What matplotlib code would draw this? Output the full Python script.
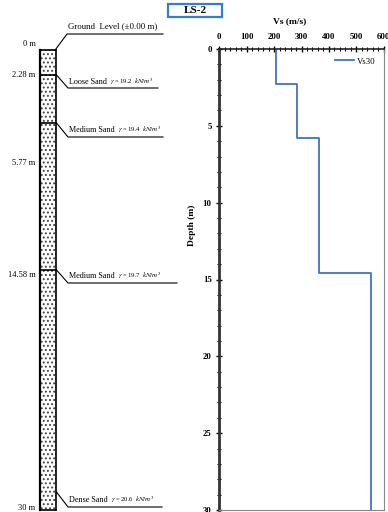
import numpy as np
import matplotlib
matplotlib.use("Agg")
import matplotlib.pyplot as plt
from matplotlib.patches import Rectangle
from matplotlib.ticker import MultipleLocator

plt.rcParams['font.family'] = ['Liberation Serif', 'DejaVu Serif']
plt.rcParams['mathtext.fontset'] = 'stix'
plt.rcParams['hatch.linewidth'] = 0.9

# ---- data ----
title = "LS-2"
layer_depths = [0.0, 2.28, 5.77, 14.58, 30.0]
depth_labels = ["0 m", "2.28 m", "5.77 m", "14.58 m", "30 m"]
layer_names = ["Loose Sand", "Medium Sand", "Medium Sand", "Dense Sand"]
unit_weights = [19.2, 19.4, 19.7, 20.6]
vs_values = [206, 283, 364, 553]
x_ticks = [0, 100, 200, 300, 400, 500, 600]
y_ticks = [0, 5, 10, 15, 20, 25, 30]

W, H = 388, 512
fig = plt.figure(figsize=(W / 100, H / 100), dpi=100)

# ---- left schematic (pixel coordinates) ----
ax0 = fig.add_axes([0, 0, 1, 1])
ax0.set_xlim(0, W)
ax0.set_ylim(H, 0)
ax0.axis('off')

col_x0, col_x1 = 39.5, 55.5
bound_px = [49.5, 75, 123, 270, 510]   # schematic (not to scale) positions
label_px = [44, 75, 163, 275, 508]

ax0.add_patch(Rectangle((col_x0, bound_px[0]), col_x1 - col_x0, bound_px[-1] - bound_px[0],
                        facecolor='white', edgecolor='#444444', hatch='....', lw=0))
ax0.plot([col_x0, col_x0], [bound_px[0], bound_px[-1]], color='black', lw=1.6)
ax0.plot([col_x1, col_x1], [bound_px[0], bound_px[-1]], color='black', lw=1.2)
for b in bound_px:
    ax0.plot([col_x0, col_x1], [b, b], color='black', lw=1.2)

for lab, yp in zip(depth_labels, label_px):
    ax0.text(35.5, yp, lab, ha='right', va='center', fontsize=6)

# ground level leader
ax0.plot([col_x1, 67, 163], [bound_px[0], 34, 34], color='black', lw=0.8)
ax0.text(68, 30, "Ground  Level (±0.00 m)", ha='left', va='bottom', fontsize=6.3)

leader_start = [75, 123, 270, 492]
leader_end_y = [88, 137, 283, 507]
line_end_x = [158, 163, 177, 162]
fig.canvas.draw()
renderer = fig.canvas.get_renderer()
for name, gw, ys, ye, xe in zip(layer_names, unit_weights, leader_start, leader_end_y, line_end_x):
    ax0.plot([col_x1 + 1, 68, xe], [ys, ye, ye], color='black', lw=0.8)
    t1 = ax0.text(69, ye - 2.5, name, ha='left', va='bottom', fontsize=5.9)
    bb = t1.get_window_extent(renderer)
    xd = ax0.transData.inverted().transform((bb.x1 + 3, 0))[0]
    t2 = ax0.text(xd, ye - 2.5, r"$\gamma$ = %.1f " % gw, ha='left', va='bottom', fontsize=4.7)
    bb2 = t2.get_window_extent(renderer)
    xd2 = ax0.transData.inverted().transform((bb2.x1 + 1, 0))[0]
    ax0.text(xd2, ye - 2.5, r"$kN/m^3$", ha='left', va='bottom', fontsize=5.0)

# ---- title box ----
fig.patches.append(Rectangle((168 / W, 1 - 17 / H), 54 / W, 13 / H, transform=fig.transFigure,
                             facecolor='white', edgecolor='#2f7fd8', lw=1.6))
fig.text(195 / W, 1 - 10.5 / H, title, ha='center', va='center', fontsize=8, fontweight='bold')

# ---- Vs profile ----
ax = fig.add_axes([219.3 / W, 1 - 510 / H, (383.7 - 219.3) / W, (510 - 49) / H])
xs = np.repeat(vs_values, 2)
ys = np.repeat(layer_depths, 2)[1:-1]
ax.plot(xs, ys, color='#4472C4', lw=1.3, label='Vs30')
ax.set_xlim(x_ticks[0], x_ticks[-1])
ax.set_ylim(y_ticks[-1], y_ticks[0])
ax.xaxis.set_ticks_position('top')
ax.xaxis.set_label_position('top')
ax.set_xticks(x_ticks)
ax.set_yticks(y_ticks)
ax.xaxis.set_minor_locator(MultipleLocator(20))
ax.yaxis.set_minor_locator(MultipleLocator(1))
ax.tick_params(axis='both', which='major', direction='inout', length=5, width=1.0,
               labelsize=6.3, pad=3)
ax.tick_params(axis='both', which='minor', direction='inout', length=3.5, width=0.8)
for lab in ax.get_xticklabels() + ax.get_yticklabels():
    lab.set_fontweight('bold')
ax.spines['left'].set_linewidth(2.0)
ax.spines['left'].set_color('#333333')
ax.spines['top'].set_linewidth(1.2)
ax.spines['top'].set_color('#222222')
ax.spines['right'].set_color('#888888')
ax.spines['right'].set_linewidth(0.8)
ax.spines['bottom'].set_color('#888888')
ax.spines['bottom'].set_linewidth(0.8)
ax.legend(loc='upper right', frameon=False, fontsize=6.3, handlelength=2.2,
          handletextpad=0.4, bbox_to_anchor=(0.99, 0.995), borderaxespad=0.3)

fig.text(290 / W, 1 - 21 / H, "Vs (m/s)", ha='center', va='center', fontsize=6.8, fontweight='bold')
fig.text(192 / W, 1 - 225 / H, "Depth (m)", ha='center', va='center', fontsize=6.8,
         fontweight='bold', rotation=90)

fig.savefig('out.png', dpi=100)
